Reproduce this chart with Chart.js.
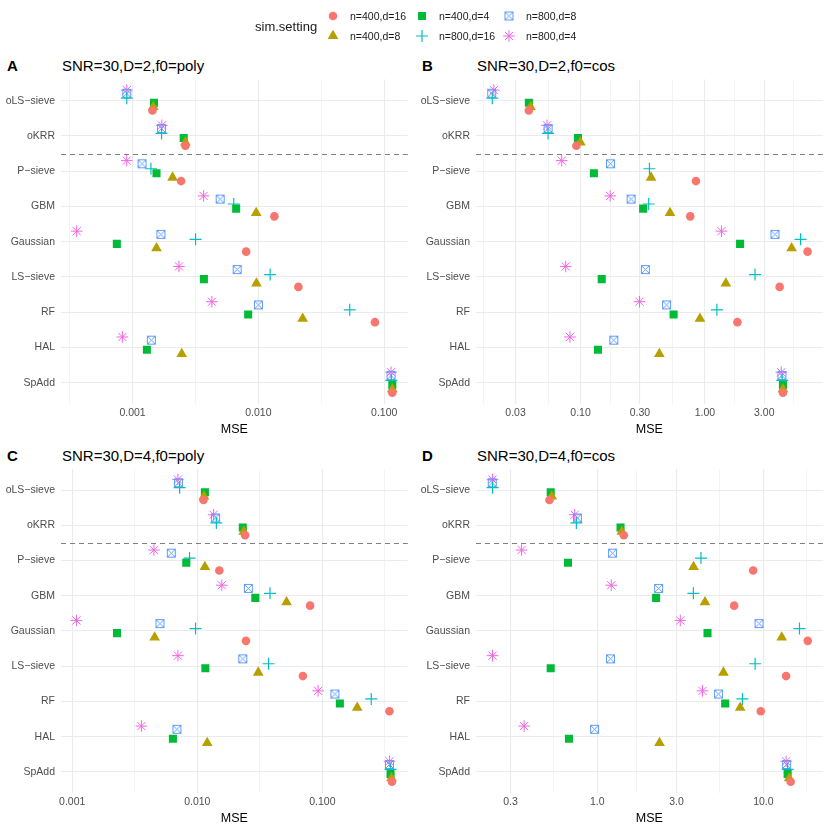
<!DOCTYPE html>
<html lang="en">
<head>
    <meta charset="UTF-8">
    <title>MSE by method</title>
    <script src="https://cdn.jsdelivr.net/npm/chart.js"></script>
    <style>
        body {
            margin: 0;
            background: #fff;
            font-family: "Liberation Sans", Arial, sans-serif;
        }
        #page {
            position: relative;
            width: 830px;
            height: 830px;
            overflow: hidden;
        }
        canvas.panel {
            position: absolute;
        }
        .tag, .ptitle, .lg {
            position: absolute;
            white-space: nowrap;
            line-height: 15px;
        }
        .tag { font-size: 15px; font-weight: bold; color: #000; }
        .ptitle { font-size: 15px; color: #000; }
        .lg { font-size: 10.5px; color: #1a1a1a; }
    </style>
</head>
<body>
<div id="page">
    <canvas id="legend" class="panel" width="830" height="48" style="left:0;top:0"></canvas>
    <div class="lg" style="left:255px;top:19px;font-size:13px;">sim.setting</div>

    <div class="tag" style="left:7px;top:58px;">A</div>
    <div class="ptitle" style="left:62px;top:58px;">SNR=30,D=2,f0=poly</div>
    <div class="tag" style="left:422px;top:58px;">B</div>
    <div class="ptitle" style="left:477px;top:58px;">SNR=30,D=2,f0=cos</div>
    <div class="tag" style="left:7px;top:448px;">C</div>
    <div class="ptitle" style="left:62px;top:448px;">SNR=30,D=4,f0=poly</div>
    <div class="tag" style="left:422px;top:448px;">D</div>
    <div class="ptitle" style="left:477px;top:448px;">SNR=30,D=4,f0=cos</div>

    <canvas id="chartA" class="panel" width="415" height="390" style="left:0;top:50px"></canvas>
    <canvas id="chartB" class="panel" width="415" height="390" style="left:415px;top:50px"></canvas>
    <canvas id="chartC" class="panel" width="415" height="390" style="left:0;top:440px"></canvas>
    <canvas id="chartD" class="panel" width="415" height="390" style="left:415px;top:440px"></canvas>
</div>

<script>
// methods from top to bottom
const methods = ['oLS−sieve', 'oKRR', 'P−sieve', 'GBM', 'Gaussian', 'LS−sieve', 'RF', 'HAL', 'SpAdd'];
const settings = ['n=400,d=16', 'n=400,d=8', 'n=400,d=4', 'n=800,d=16', 'n=800,d=8', 'n=800,d=4'];

// MSE values, one array per setting (same order as settings), values follow methods
const mseA = [
    [0.00144, 0.00263, 0.00243, 0.0134, 0.0080, 0.0208, 0.0844, null, 0.116],
    [0.00146, 0.00263, 0.00208, 0.0096, 0.00155, 0.00965, 0.0225, 0.00246, 0.116],
    [0.00148, 0.00255, 0.00155, 0.00666, 0.00075, 0.00369, 0.0083, 0.0013, 0.116],
    [0.00090, 0.00170, 0.00140, 0.00637, 0.00317, 0.0124, 0.0532, null, 0.114],
    [0.00090, 0.00170, 0.00119, 0.00497, 0.00168, 0.00678, 0.0100, 0.00141, 0.1133],
    [0.00090, 0.00171, 0.00090, 0.00367, 0.00036, 0.00234, 0.00427, 0.00083, 0.1133]
];
const mseB = [
    [0.0384, 0.0925, 0.847, 0.762, 6.69, 3.99, 1.825, null, 4.24],
    [0.0396, 0.0996, 0.369, 0.524, 4.98, 1.473, 0.912, 0.430, 4.24],
    [0.0384, 0.0953, 0.128, 0.3185, 1.918, 0.148, 0.560, 0.138, 4.24],
    [0.0195, 0.0548, 0.358, 0.353, 5.88, 2.53, 1.248, null, 4.18],
    [0.0193, 0.0548, 0.174, 0.255, 3.66, 0.332, 0.492, 0.185, 4.16],
    [0.0201, 0.0538, 0.0706, 0.173, 1.358, 0.076, 0.298, 0.0822, 4.11]
];
const mseC = [
    [0.0112, 0.0241, 0.0150, 0.0798, 0.0245, 0.0698, 0.344, null, 0.360],
    [0.0113, 0.0235, 0.0115, 0.0517, 0.00456, 0.0307, 0.190, 0.0120, 0.357],
    [0.0115, 0.0231, 0.00816, 0.0291, 0.00228, 0.0116, 0.138, 0.00638, 0.351],
    [0.00722, 0.0142, 0.00867, 0.0381, 0.00968, 0.0371, 0.246, null, 0.351],
    [0.00708, 0.0140, 0.00619, 0.0256, 0.00503, 0.0231, 0.126, 0.00687, 0.344],
    [0.0070, 0.0135, 0.0045, 0.0157, 0.00108, 0.0070, 0.0924, 0.00357, 0.344]
];
const mseD = [
    [0.515, 1.444, 8.68, 6.67, 18.5, 13.7, 9.65, null, 14.6],
    [0.532, 1.405, 3.80, 4.45, 12.9, 5.75, 7.25, 2.37, 14.3],
    [0.524, 1.38, 0.666, 2.26, 4.61, 0.524, 5.89, 0.675, 14.0],
    [0.234, 0.748, 4.21, 3.79, 16.5, 8.92, 7.48, null, 14.0],
    [0.233, 0.759, 1.235, 2.34, 9.42, 1.20, 5.37, 0.963, 13.8],
    [0.234, 0.731, 0.350, 1.213, 3.16, 0.234, 4.30, 0.3625, 13.7]
];

// x axis ranges and tick labels
const rangeA = [2.70e-4, 0.154];
const rangeB = [0.01443, 8.87];
const rangeC = [8.13e-4, 0.482];
const rangeD = [0.186, 22.8];
const ticksA = ['0.001', '0.010', '0.100'];
const ticksB = ['0.03', '0.10', '0.30', '1.00', '3.00'];
const ticksC = ['0.001', '0.010', '0.100'];
const ticksD = ['0.3', '1.0', '3.0', '10.0'];

// look of each setting
const colors = ['#F8766D', '#B79F00', '#00BA38', '#00BFC4', '#619CFF', '#F564E3'];
const dodge = [0.28, 0.18, 0.06, -0.07, -0.21, -0.30];

// square with an x inside (ggplot shape 7)
function boxCross(color) {
    const c = document.createElement('canvas');
    c.width = 11; c.height = 11;
    const g = c.getContext('2d');
    g.strokeStyle = color;
    g.lineWidth = 1;
    g.strokeRect(1.5, 1.5, 8, 8);
    g.beginPath();
    g.moveTo(1.5, 1.5); g.lineTo(9.5, 9.5);
    g.moveTo(9.5, 1.5); g.lineTo(1.5, 9.5);
    g.stroke();
    return c;
}

const shapes = ['circle', 'triangle', 'rect', 'cross', boxCross(colors[4]), 'star'];
const radii = [4.3, 6.2, 5.7, 6, 5, 5.8];
const borders = [0, 0, 0, 1.2, 1, 1];

function isMajor(v, majors) {
    return majors.some(m => Math.abs(Math.log10(v) - Math.log10(m)) < 1e-6);
}

// ggplot style minor breaks: log midpoints, one step beyond each end
function minorBreaks(majors) {
    const l = majors.map(Math.log10);
    const ext = [l[0] - (l[1] - l[0]), ...l, l[l.length - 1] + (l[l.length - 1] - l[l.length - 2])];
    const out = [];
    for (let i = 0; i < ext.length - 1; i++) out.push(Math.pow(10, (ext[i] + ext[i + 1]) / 2));
    return out;
}

const dashedLine = {
    id: 'dashedLine',
    beforeDatasetsDraw(chart) {
        const {ctx, chartArea, scales} = chart;
        const y = Math.round(scales.y.getPixelForValue(2.5)) + 0.5;
        ctx.save();
        ctx.strokeStyle = '#808080';
        ctx.lineWidth = 1;
        ctx.setLineDash([5, 4]);
        ctx.beginPath();
        ctx.moveTo(chartArea.left, y);
        ctx.lineTo(chartArea.right, y);
        ctx.stroke();
        ctx.restore();
    }
};

function makePanel(id, mse, range, tickLabels, padTop, padBottom) {
    const majors = tickLabels.map(Number);
    const minors = minorBreaks(majors).filter(v => v > range[0] && v < range[1]);

    const datasets = settings.map((s, k) => ({
        label: s,
        data: mse[k].map((v, i) => v == null ? null : {x: v, y: i + 1 + dodge[k]}).filter(p => p),
        pointStyle: shapes[k],
        pointRadius: radii[k],
        pointHoverRadius: radii[k],
        backgroundColor: colors[k],
        borderColor: colors[k],
        borderWidth: borders[k],
        showLine: false
    }));

    new Chart(document.getElementById(id), {
        type: 'scatter',
        data: { datasets },
        options: {
            responsive: false,
            animation: false,
            devicePixelRatio: 1,
            layout: { padding: { top: padTop, right: 6, bottom: padBottom, left: 0 } },
            plugins: { legend: { display: false }, tooltip: { enabled: false } },
            scales: {
                x: {
                    type: 'logarithmic',
                    min: range[0],
                    max: range[1],
                    afterBuildTicks: sc => {
                        sc.ticks = majors.concat(minors).sort((a, b) => a - b).map(v => ({ value: v }));
                    },
                    afterFit: sc => { sc.height = 36; },
                    ticks: {
                        autoSkip: false,
                        maxRotation: 0,
                        padding: 3,
                        color: '#4D4D4D',
                        font: { family: 'Liberation Sans', size: 10.5 },
                        callback: v => {
                            const i = majors.findIndex(m => Math.abs(Math.log10(v) - Math.log10(m)) < 1e-6);
                            return i >= 0 ? tickLabels[i] : '';
                        }
                    },
                    grid: {
                        drawTicks: false,
                        color: '#EBEBEB',
                        lineWidth: c => (c.tick && isMajor(c.tick.value, majors)) ? 1.1 : 0.55
                    },
                    border: { display: false },
                    title: {
                        display: true,
                        text: 'MSE',
                        color: '#000',
                        font: { family: 'Liberation Sans', size: 12.5 },
                        padding: { top: 4, bottom: 3 }
                    }
                },
                y: {
                    type: 'linear',
                    reverse: true,
                    min: 0.4,
                    max: 9.6,
                    afterBuildTicks: sc => {
                        sc.ticks = methods.map((m, i) => ({ value: i + 1 }));
                    },
                    afterFit: sc => { sc.width = 61; },
                    ticks: {
                        autoSkip: false,
                        padding: 6,
                        color: '#4D4D4D',
                        font: { family: 'Liberation Sans', size: 10.5 },
                        callback: v => methods[Math.round(v) - 1] || ''
                    },
                    grid: { drawTicks: false, color: '#EBEBEB', lineWidth: 1.1 },
                    border: { display: false }
                }
            }
        },
        plugins: [dashedLine]
    });
}

makePanel('chartA', mseA, rangeA, ticksA, 29.5, 0);
makePanel('chartB', mseB, rangeB, ticksB, 29.5, 0);
makePanel('chartC', mseC, rangeC, ticksC, 29, 1);
makePanel('chartD', mseD, rangeD, ticksD, 29, 1);

// legend: three columns, two rows
const legendSlots = [[333, 16], [333, 36], [422, 16], [422, 36], [509, 16], [509, 36]];
const lctx = document.getElementById('legend').getContext('2d');
const page = document.getElementById('page');
settings.forEach((s, k) => {
    const [x, y] = legendSlots[k];
    lctx.save();
    lctx.fillStyle = colors[k];
    lctx.strokeStyle = colors[k];
    lctx.lineWidth = borders[k];
    Chart.helpers.drawPoint(lctx, { pointStyle: shapes[k], radius: radii[k], rotation: 0, borderWidth: borders[k] }, x, y);
    lctx.restore();
    const t = document.createElement('div');
    t.className = 'lg';
    t.style.left = (x + 17) + 'px';
    t.style.top = (y - 7.5) + 'px';
    t.textContent = s;
    page.appendChild(t);
});
</script>
</body>
</html>
